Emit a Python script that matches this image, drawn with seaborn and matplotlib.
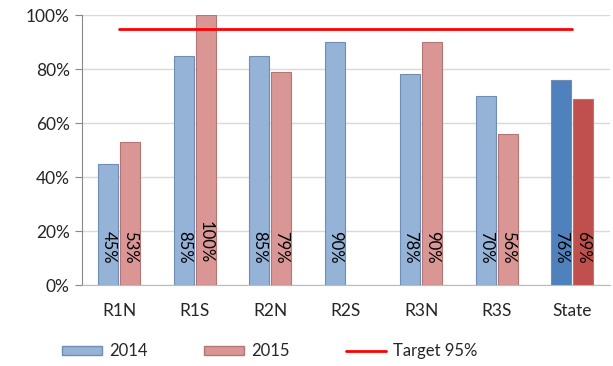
import matplotlib.pyplot as plt
import matplotlib.patches as mpatches
import matplotlib.lines as mlines
import numpy as np
import pandas as pd
import seaborn as sns

# chart data
regions = ['R1N', 'R1S', 'R2N', 'R2S', 'R3N', 'R3S', 'State']
vals_2014 = [45, 85, 85, 90, 78, 70, 76]
vals_2015 = [53, 100, 79, np.nan, 90, 56, 69]
target = 95

df = pd.DataFrame({
    'region': regions * 2,
    'year': ['2014'] * len(regions) + ['2015'] * len(regions),
    'value': vals_2014 + vals_2015,
})

sns.set_style('white')
plt.rcParams['font.family'] = ['Lato', 'DejaVu Sans']

light = {'2014': '#95b3d7', '2015': '#d99694'}
dark = {'2014': '#4f81bd', '2015': '#c0504d'}
edge = {'2014': '#6f8db5', '2015': '#b27674'}

fig = plt.figure(figsize=(6.13, 3.66), dpi=100)
ax = fig.add_axes([0.133, 0.221, 0.862, 0.738])

sns.barplot(data=df, x='region', y='value', hue='year', palette=light,
            width=0.58, gap=0.08, ax=ax, legend=False, saturation=1)

# recolour bars (State gets the darker shades) and add labels;
# match each bar to its category by position since NaN bars are dropped
for cont, year in zip(ax.containers, ['2014', '2015']):
    for bar in cont:
        h = bar.get_height()
        if np.isnan(h) or h == 0:
            continue
        cx = bar.get_x() + bar.get_width() / 2
        i = int(round(cx))
        if regions[i] == 'State':
            bar.set_facecolor(dark[year])
        bar.set_edgecolor(edge[year])
        bar.set_linewidth(0.8)
        ax.text(cx, 8, f'{int(h)}%', rotation=-90, ha='center', va='bottom',
                fontsize=12, color='black')

# target line
ax.plot([0, len(regions) - 1], [target, target], color='#ff0000', lw=2)

ax.set_xlim(-0.5, len(regions) - 0.5)
ax.set_ylim(0, 100)
ax.set_yticks(range(0, 101, 20))
ax.set_yticklabels([f'{t}%' for t in range(0, 101, 20)], fontsize=12.5)
ax.tick_params(axis='x', labelsize=12.5, length=0, pad=13)
ax.set_xticks(np.arange(-0.5, len(regions), 1), minor=True)
ax.tick_params(axis='x', which='minor', length=5, color='#888888', direction='out')
ax.tick_params(axis='y', length=5, color='#888888', direction='out', left=True)
ax.set_xlabel('')
ax.set_ylabel('')

ax.set_axisbelow(True)
ax.yaxis.grid(True, color='#d9d9d9', lw=1)
for s in ['top', 'right']:
    ax.spines[s].set_visible(False)
ax.spines['left'].set_color('#888888')
ax.spines['bottom'].set_color('#bbbbbb')

handles = [
    mpatches.Patch(facecolor=light['2014'], edgecolor=edge['2014'], label='2014'),
    mpatches.Patch(facecolor=light['2015'], edgecolor=edge['2015'], label='2015'),
    mlines.Line2D([], [], color='#ff0000', lw=2, label='Target 95%'),
]
fig.legend(handles=handles, loc='center', bbox_to_anchor=(0.44, 0.04), ncol=3,
           frameon=False, fontsize=12, handlelength=2.4, handleheight=0.45,
           columnspacing=3.4, handletextpad=0.4)

plt.savefig('out.png', dpi=100)
